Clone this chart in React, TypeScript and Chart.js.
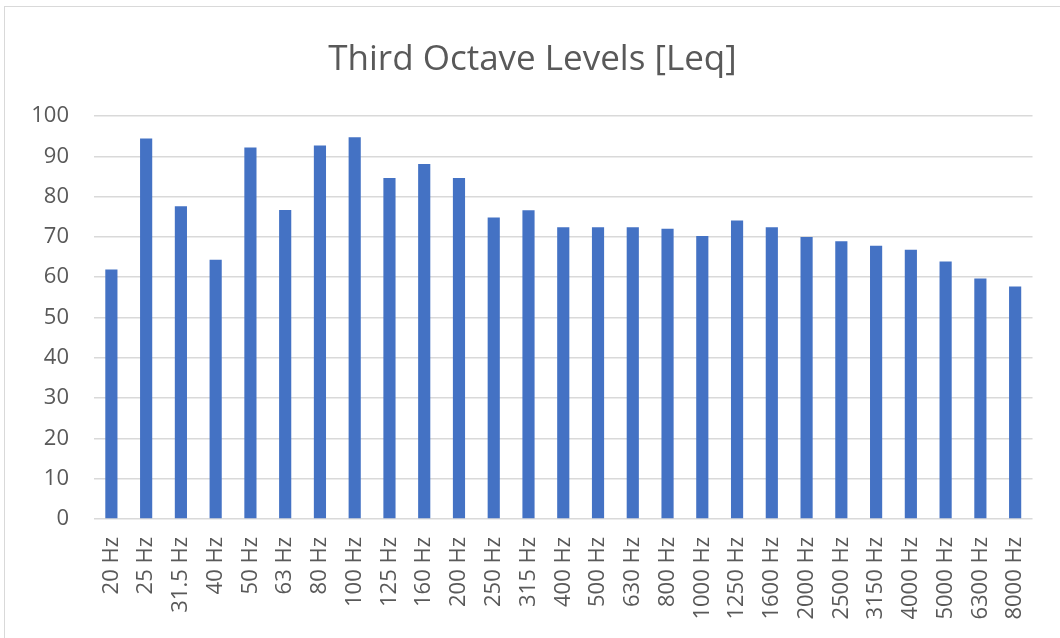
import React, { useEffect, useRef } from "react";
import { Chart, registerables } from "chart.js";

Chart.register(...registerables);

const categories = [
  "20 Hz", "25 Hz", "31.5 Hz", "40 Hz", "50 Hz", "63 Hz", "80 Hz", "100 Hz", "125 Hz",
  "160 Hz", "200 Hz", "250 Hz", "315 Hz", "400 Hz", "500 Hz", "630 Hz", "800 Hz",
  "1000 Hz", "1250 Hz", "1600 Hz", "2000 Hz", "2500 Hz", "3150 Hz", "4000 Hz",
  "5000 Hz", "6300 Hz", "8000 Hz",
];

const leqValues = [
  61.9, 94.4, 77.6, 64.3, 92.2, 76.7, 92.7, 94.7, 84.6,
  88.1, 84.6, 74.8, 76.6, 72.4, 72.4, 72.4, 72.0,
  70.2, 74.1, 72.4, 70.0, 68.9, 67.8, 66.8,
  63.9, 59.7, 57.7,
];

const chartTitle = "Third Octave Levels [Leq]";

export default function App() {
  const canvasRef = useRef<HTMLCanvasElement | null>(null);

  useEffect(() => {
    document.body.style.margin = "0";
    const ctx = canvasRef.current;
    if (!ctx) return;
    const chart = new Chart(ctx, {
      type: "bar",
      data: {
        labels: categories,
        datasets: [
          {
            label: "Leq",
            data: leqValues,
            backgroundColor: "#4472C4",
            borderWidth: 0,
            barPercentage: 0.35,
            categoryPercentage: 1,
          },
        ],
      },
      options: {
        responsive: false,
        animation: false,
        layout: { padding: { left: 30, right: 25, top: 0, bottom: 0 } },
        plugins: {
          legend: { display: false },
          tooltip: { enabled: false },
          title: {
            display: true,
            text: chartTitle,
            color: "#595959",
            font: { family: "'Open Sans', sans-serif", size: 35, weight: "normal", lineHeight: 1.2 },
            padding: { top: 39, bottom: 35 },
          },
        },
        scales: {
          x: {
            grid: { display: false, drawTicks: false },
            border: { display: false },
            ticks: {
              color: "#595959",
              font: { family: "'Open Sans', sans-serif", size: 22 },
              maxRotation: 90,
              minRotation: 90,
              autoSkip: false,
              padding: 18,
            },
            afterFit: (scale: any) => {
              scale.height = 119;
            },
          },
          y: {
            min: 0,
            max: 100,
            grid: { color: "#d9d9d9", lineWidth: 1.5, drawTicks: false },
            border: { display: false },
            ticks: {
              stepSize: 10,
              color: "#595959",
              font: { family: "'Open Sans', sans-serif", size: 22 },
              padding: 25,
            },
            afterFit: (scale: any) => {
              scale.width = 64;
            },
          },
        },
      },
    });
    return () => chart.destroy();
  }, []);

  return (
    <div style={{ position: "relative", width: 1060, height: 638, background: "#fff", overflow: "hidden" }}>
      <div
        style={{
          position: "absolute",
          left: 4,
          top: 6,
          width: 1070,
          height: 650,
          border: "1.5px solid #d9d9d9",
          boxSizing: "border-box",
        }}
      />
      <canvas ref={canvasRef} width={1060} height={638} style={{ position: "absolute", left: 0, top: 0 }} />
    </div>
  );
}
